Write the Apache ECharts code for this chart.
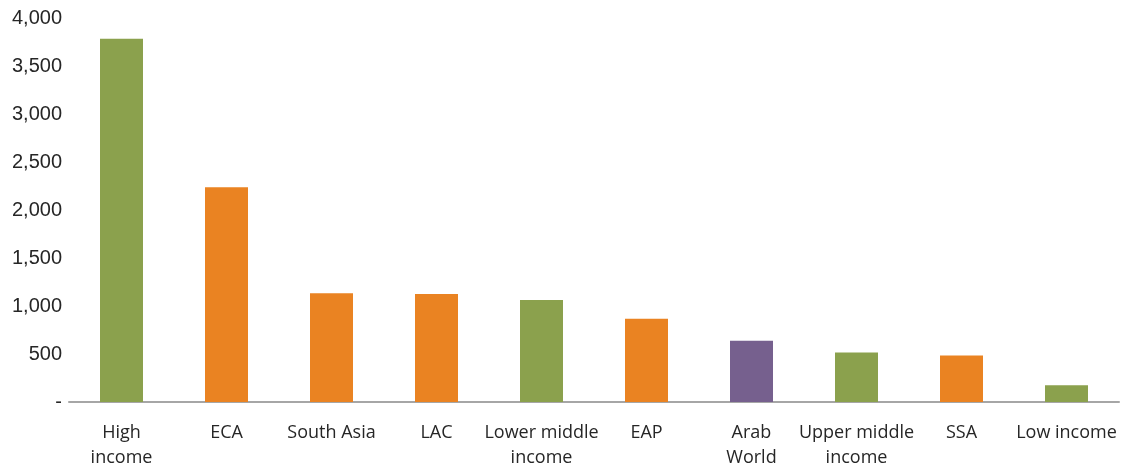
<!DOCTYPE html>
<html>
<head>
<meta charset="utf-8">
<script src="https://cdn.jsdelivr.net/npm/echarts@6/dist/echarts.min.js"></script>
<style>
  html, body { margin: 0; padding: 0; background: #fff; width: 100%; height: 100%; overflow: hidden; }
  #chart { width: 1126px; height: 470px; }
</style>
</head>
<body>
<div id="chart"></div>
<script>
// categories (x axis), as shown with line breaks
const categories = ['High\nincome', 'ECA', 'South Asia', 'LAC', 'Lower middle\nincome', 'EAP', 'Arab\nWorld', 'Upper middle\nincome', 'SSA', 'Low income']
// bar values
const values = [3784, 2237, 1134, 1124, 1062, 866, 639, 515, 485, 175]
// group of each bar: income group / region / arab world
const groups = ['income', 'region', 'region', 'region', 'income', 'region', 'arab', 'income', 'region', 'income']
// y tick labels
const yTicks = [0, 500, 1000, 1500, 2000, 2500, 3000, 3500, 4000]

const colors = { income: '#8BA14D', region: '#EA8322', arab: '#76608E' }

const chart = echarts.init(document.getElementById('chart'))
const option = {
    animation: false,
    grid: { left: 69, right: 7, top: 18, bottom: 64 },
    xAxis: {
        type: 'category',
        data: categories,
        axisLine: { lineStyle: { color: '#A6A6A6', width: 2 } },
        axisTick: { show: false },
        axisLabel: {
            interval: 0,
            margin: 18,
            color: '#262626',
            fontFamily: 'Open Sans',
            fontSize: 18,
            lineHeight: 25
        }
    },
    yAxis: {
        type: 'value',
        min: 0,
        max: 4000,
        interval: 500,
        axisLine: { show: false },
        axisTick: { show: false },
        splitLine: { show: false },
        axisLabel: {
            margin: 7,
            color: '#262626',
            fontFamily: 'Liberation Sans',
            fontSize: 20,
            formatter: function (v) {
                // 0 shows as a dash
                if (!yTicks.includes(v)) return ''
                return v === 0 ? '-' : v.toLocaleString('en-US')
            }
        }
    },
    series: [
        {
            type: 'bar',
            barWidth: 43,
            data: values.map((v, i) => ({
                value: v,
                itemStyle: { color: colors[groups[i]] }
            }))
        }
    ]
}
chart.setOption(option)
</script>
</body>
</html>
